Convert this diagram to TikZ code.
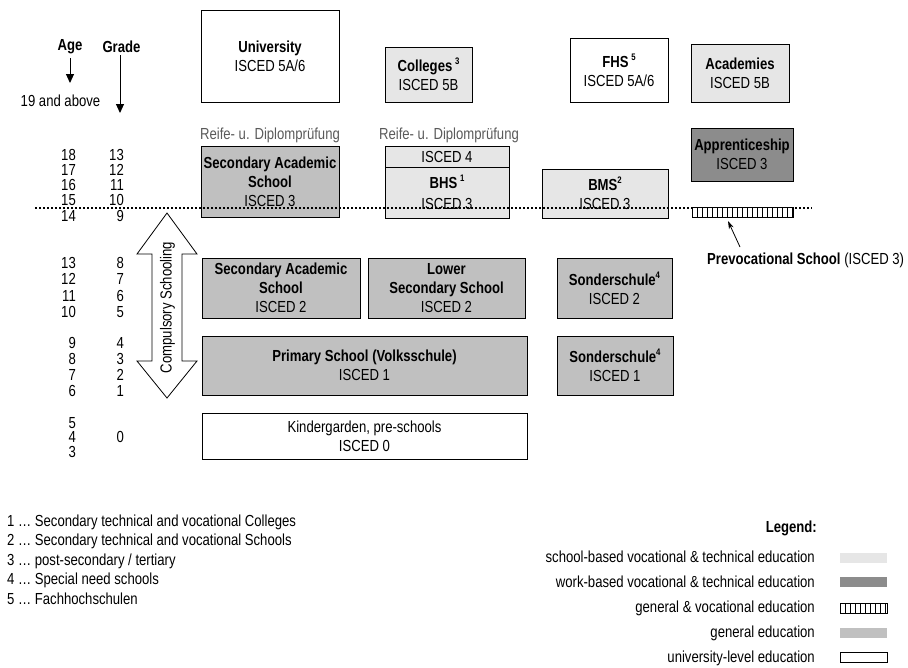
\documentclass[tikz,border=0pt]{standalone}
\usepackage{fontspec}
\setmainfont{Liberation Sans}[FakeStretch=0.82]
\usetikzlibrary{arrows.meta}

\definecolor{vocgray}{HTML}{E6E6E6}
\definecolor{workgray}{HTML}{8C8C8C}
\definecolor{gengray}{HTML}{C0C0C0}
\definecolor{notegray}{HTML}{5A5A5A}

% small raised footnote mark
\newcommand\fnmark[1]{\raisebox{0.42em}{\fontsize{9.5}{9.5}\selectfont\bfseries #1}}

\begin{document}
\begin{tikzpicture}[x=1pt,y=-1pt,
  font=\fontsize{16}{19}\selectfont,
  box/.style={draw=black, line width=0.8pt, inner sep=0pt, align=center},
  unibox/.style={box, fill=white},
  vocbox/.style={box, fill=vocgray},
  workbox/.style={box, fill=workgray},
  genbox/.style={box, fill=gengray},
  hatchbox/.style={draw=black, line width=0.8pt, inner sep=0pt, fill=white,
    path picture={\foreach \k in {1,...,25}{
      \draw[line width=0.9pt] ([xshift=\k*5pt]path picture bounding box.south west)
        -- ([xshift=\k*5pt]path picture bounding box.north west);}}},
  num/.style={anchor=east, inner sep=0pt},
  head/.style={inner sep=0pt, font=\fontsize{16}{19}\selectfont\bfseries},
  downarrow/.style={line width=1pt, -{Triangle[width=8pt,length=9pt]}},
  dotline/.style={line width=1.5pt, dash pattern=on 1.5pt off 2.5pt},
  reife/.style={inner sep=0pt, text=notegray},
  swatch/.style={inner sep=0pt, minimum width=47pt, minimum height=10pt},
  legtext/.style={anchor=east, inner sep=0pt},
  foot/.style={anchor=west, inner sep=0pt}
]
\useasboundingbox (0,0) rectangle (908,667);

% ---------- age / grade column ----------
\node[head] (age) at (70,47) {Age};
\node[head] (grade) at (121.5,47) {Grade};
\coordinate (agetip) at (70,83);
\coordinate (gradetip) at (120,113);
\draw[downarrow] (70,58) -- (agetip);
\draw[downarrow] (120,55) -- (gradetip);
\node[inner sep=0pt] (above) at (60.5,101) {19 and above};

\foreach \a/\g/\y in {18/13/154.5, 17/12/169.8, 16/11/185, 15/10/200.2, 14/9/215.5,
                      13/8/263.3, 12/7/279.4, 11/6/295.5, 10/5/311.6,
                      9/4/343.3, 8/3/359, 7/2/374.8, 6/1/390.6}{
  \node[num] (age\a) at (76,\y) {\a};
  \node[num] (grade\g) at (124,\y) {\g};
}
\node[num] (age5) at (76,422.7) {5};
\node[num] (age4) at (76,437.3) {4};
\node[num] (grade0) at (124,437.3) {0};
\node[num] (age3) at (76,452) {3};

% ---------- tertiary level ----------
\node[unibox, minimum width=138pt, minimum height=92pt] (univ) at (270,56)
  {\textbf{University}\\ISCED 5A/6};
\node[vocbox, minimum width=87pt, minimum height=55pt] (coll) at (428.5,74.5)
  {\textbf{Colleges}\,\fnmark{3}\\ISCED 5B};
\node[unibox, minimum width=98pt, minimum height=64pt] (fhs) at (619,70)
  {\textbf{FHS}\,\fnmark{5}\\ISCED 5A/6};
\node[vocbox, minimum width=98pt, minimum height=58pt] (acad) at (740,73)
  {\textbf{Academies}\\ISCED 5B};

\node[reife] (reife1) at (270,135) {Reife- u. Diplomprüfung};
\node[reife] (reife2) at (449,135) {Reife- u. Diplomprüfung};

% ---------- upper secondary ----------
\node[genbox, minimum width=138pt, minimum height=71pt] (sas3) at (270,181.5)
  {\textbf{Secondary Academic}\\\textbf{School}\\ISCED 3};
\node[vocbox, minimum width=124pt, minimum height=21pt] (bhs4) at (447,156.5) {ISCED 4};
\node[vocbox, minimum width=124pt, minimum height=51pt] (bhs) at (447,192.5)
  {\textbf{BHS}\,\fnmark{1}\\[2pt]ISCED 3};
\node[vocbox, minimum width=126pt, minimum height=49pt] (bms) at (605,193.5)
  {\textbf{BMS}\fnmark{2}\\ISCED 3};
\node[workbox, minimum width=102pt, minimum height=53pt] (appr) at (742,154.5)
  {\textbf{Apprenticeship}\\ISCED 3};

% end of compulsory schooling
\coordinate (dotL) at (35,208);
\coordinate (dotR) at (812,208);
\draw[dotline] (dotL) -- (dotR);

\node[hatchbox, minimum width=101pt, minimum height=10pt] (prev) at (742.5,212) {};
\node[anchor=west, inner sep=0pt] (prevlab) at (707,260)
  {\textbf{Prevocational School} (ISCED 3)};
\coordinate (prevtip) at (728,221);
\coordinate (prevtail) at (740,247);
\draw[line width=0.8pt, -{Stealth[length=8pt,width=5pt]}] (prevtail) -- (prevtip);

% ---------- compulsory schooling ----------
\draw[line width=0.8pt, fill=white]
  (167,213) -- (197,254) -- (182,254) -- (182,361) -- (197,361) -- (167,398)
  -- (137,361) -- (152,361) -- (152,254) -- (137,254) -- cycle;
\node[rotate=90, inner sep=0pt] (compulsory) at (167.5,307.5) {Compulsory Schooling};

\node[genbox, minimum width=158pt, minimum height=60pt] (sas2) at (281,288)
  {\textbf{Secondary Academic}\\\textbf{School}\\ISCED 2};
\node[genbox, minimum width=157pt, minimum height=60pt] (lss) at (446.5,288)
  {\textbf{Lower}\\\textbf{Secondary School}\\ISCED 2};
\node[genbox, minimum width=115pt, minimum height=60pt] (son2) at (614.5,288)
  {\textbf{Sonderschule}\fnmark{4}\\ISCED 2};
\node[genbox, minimum width=325pt, minimum height=59pt] (prim) at (364.5,365.5)
  {\textbf{Primary School (Volksschule)}\\ISCED 1};
\node[genbox, minimum width=116pt, minimum height=59pt] (son1) at (615,365.5)
  {\textbf{Sonderschule}\fnmark{4}\\ISCED 1};
\node[unibox, minimum width=325pt, minimum height=46pt] (kind) at (364.5,436)
  {Kindergarden, pre-schools\\ISCED 0};

% ---------- footnotes ----------
\node[foot] (fn1) at (7,522) {1 … Secondary technical and vocational Colleges};
\node[foot] (fn2) at (7,541) {2 … Secondary technical and vocational Schools};
\node[foot] (fn3) at (7,561) {3 … post-secondary / tertiary};
\node[foot] (fn4) at (7,580) {4 … Special need schools};
\node[foot] (fn5) at (7,599) {5 … Fachhochschulen};

% ---------- legend ----------
\node[legtext, font=\fontsize{16}{19}\selectfont\bfseries] (legend) at (817,528) {Legend:};
\node[legtext] (l1) at (815,557) {school-based vocational \& technical education};
\node[legtext] (l2) at (815,582) {work-based vocational \& technical education};
\node[legtext] (l3) at (815,608) {general \& vocational education};
\node[legtext] (l4) at (815,633) {general education};
\node[legtext] (l5) at (815,658) {university-level education};
\node[swatch, fill=vocgray] (s1) at (863.5,557.5) {};
\node[swatch, fill=workgray] (s2) at (863.5,582) {};
\node[hatchbox, minimum width=47pt, minimum height=10pt] (s3) at (863.5,608) {};
\node[swatch, fill=gengray] (s4) at (863.5,633) {};
\node[swatch, draw=black, line width=0.8pt, fill=white] (s5) at (863.5,657.5) {};
\end{tikzpicture}
\end{document}
